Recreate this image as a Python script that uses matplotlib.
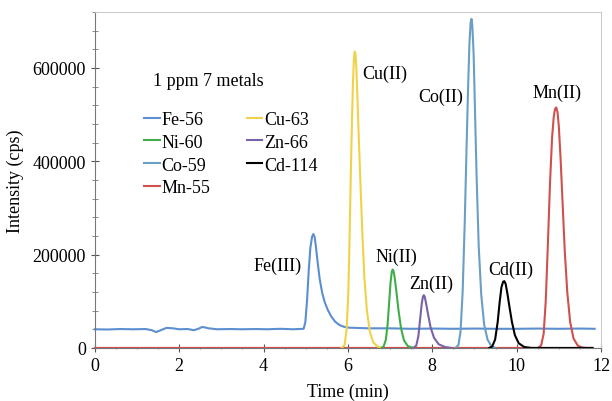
import matplotlib
matplotlib.use('Agg')
import matplotlib.pyplot as plt
from matplotlib.ticker import MultipleLocator

plt.rcParams['font.family'] = ['Liberation Serif', 'DejaVu Serif']
plt.rcParams['font.size'] = 13

# chromatogram traces: time (min), intensity (cps)
fe_t = [0, 0.3, 0.6, 0.9, 1.2, 1.35, 1.45, 1.55, 1.7, 1.85, 2.0, 2.2, 2.35, 2.45, 2.55, 2.7, 2.9,
        3.2, 3.5, 3.8, 4.1, 4.4, 4.7, 4.95, 4.99, 5.03, 5.07, 5.11, 5.15, 5.18, 5.21, 5.24, 5.28,
        5.33, 5.39, 5.45, 5.52, 5.6, 5.7, 5.8, 5.9, 6.0, 6.5, 7.0, 7.5, 8.0, 8.5, 9.0, 9.5, 10.0,
        10.5, 11.0, 11.5, 11.85]
fe_i = [40000, 39500, 40500, 40000, 40500, 38000, 34000, 37500, 43000, 42000, 40000, 40500, 38000,
        41000, 45000, 42000, 40000, 40500, 40000, 40500, 40000, 41000, 40000, 41000, 55000, 100000,
        165000, 215000, 238000, 244000, 238000, 218000, 185000, 148000, 118000, 98000, 82000,
        68000, 56000, 49000, 45500, 43500, 42000, 42000, 41000, 41500, 41000, 41500, 41000, 41000,
        41500, 41000, 41500, 41000]

cu_t = [5.85, 5.92, 5.97, 6.01, 6.04, 6.07, 6.10, 6.12, 6.14, 6.16, 6.18, 6.20, 6.22, 6.25, 6.29,
        6.34, 6.39, 6.45, 6.52, 6.60, 6.70, 6.80]
cu_i = [0, 6000, 40000, 120000, 240000, 380000, 500000, 570000, 615000, 635000, 630000, 600000,
        550000, 470000, 370000, 250000, 150000, 80000, 35000, 12000, 3000, 0]

ni_t = [6.80, 6.85, 6.90, 6.94, 6.98, 7.01, 7.04, 7.06, 7.08, 7.11, 7.15, 7.20, 7.26, 7.33, 7.42, 7.55]
ni_i = [0, 4000, 18000, 50000, 100000, 140000, 163000, 168000, 165000, 150000, 120000, 80000,
        42000, 16000, 4000, 0]

zn_t = [7.55, 7.62, 7.67, 7.71, 7.75, 7.78, 7.80, 7.82, 7.85, 7.90, 7.96, 8.04, 8.15, 8.30, 8.45]
zn_i = [0, 5000, 25000, 60000, 95000, 110000, 113000, 110000, 97000, 72000, 44000, 22000, 8000, 2000, 0]

co_t = [8.55, 8.62, 8.67, 8.72, 8.77, 8.81, 8.85, 8.88, 8.91, 8.93, 8.95, 8.98, 9.01, 9.05, 9.10,
        9.16, 9.23, 9.31, 9.40, 9.50]
co_i = [0, 6000, 35000, 120000, 270000, 420000, 560000, 650000, 698000, 705000, 690000, 630000,
        520000, 370000, 220000, 115000, 50000, 18000, 4000, 0]

cd_t = [9.35, 9.42, 9.49, 9.55, 9.60, 9.64, 9.68, 9.71, 9.74, 9.78, 9.83, 9.89, 9.96, 10.05, 10.18,
        10.35, 11.8]
cd_i = [0, 3000, 18000, 55000, 100000, 130000, 142000, 143000, 137000, 117000, 88000, 55000,
        27000, 10000, 2000, 0, 0]

mn_t = [0, 10.50, 10.58, 10.64, 10.69, 10.74, 10.79, 10.84, 10.88, 10.91, 10.94, 10.97, 11.00,
        11.04, 11.09, 11.14, 11.20, 11.27, 11.35, 11.45, 11.55, 11.65, 11.80]
mn_i = [0, 0, 5000, 30000, 100000, 220000, 350000, 450000, 495000, 512000, 515000, 505000,
        475000, 410000, 310000, 210000, 120000, 55000, 20000, 5000, 1000, 0, 0]

fig = plt.figure(figsize=(6.12, 4.02), dpi=100)
ax = fig.add_axes([0.155, 0.132, 0.827, 0.836])

lw = 1.5
kw = dict(lw=lw, clip_on=False, solid_joinstyle='round')
l_fe, = ax.plot(fe_t, fe_i, color='#5b8fd0', label='Fe-56', **kw)
l_mn, = ax.plot(mn_t, mn_i, color='#d0504d', label='Mn-55', **kw)
l_cu, = ax.plot(cu_t, cu_i, color='#f0d24a', label='Cu-63', **kw)
l_ni, = ax.plot(ni_t, ni_i, color='#3fae4a', label='Ni-60', **kw)
l_zn, = ax.plot(zn_t, zn_i, color='#7862a8', label='Zn-66', **kw)
l_co, = ax.plot(co_t, co_i, color='#6a9ec4', label='Co-59', **kw)
l_cd, = ax.plot(cd_t, cd_i, color='black', label='Cd-114', **kw)

# peak labels
ax.text(4.91, 177000, 'Fe(III)', ha='right', va='center')
ax.text(6.33, 589000, 'Cu(II)', ha='left', va='center')
ax.text(7.16, 196000, 'Ni(II)', ha='center', va='center')
ax.text(7.97, 139000, 'Zn(II)', ha='center', va='center')
ax.text(8.72, 538000, 'Co(II)', ha='right', va='center')
ax.text(9.86, 169000, 'Cd(II)', ha='center', va='center')
ax.text(10.96, 548000, 'Mn(II)', ha='center', va='center')

ax.text(1.38, 572000, '1 ppm 7 metals', ha='left', va='center')
ax.legend(handles=[l_fe, l_ni, l_co, l_mn, l_cu, l_zn, l_cd], ncol=2, frameon=False,
          loc='upper left', bbox_to_anchor=(0.098, 0.705), borderpad=0, borderaxespad=0,
          handlelength=0.85, handletextpad=0.1, columnspacing=2.0, labelspacing=0.32,
          prop={'family': 'Liberation Serif', 'size': 13})

ax.set_xlim(0, 12)
ax.set_ylim(0, 720000)
ax.xaxis.set_major_locator(MultipleLocator(2))
ax.xaxis.set_minor_locator(MultipleLocator(0.5))
ax.yaxis.set_major_locator(MultipleLocator(200000))
ax.yaxis.set_minor_locator(MultipleLocator(40000))
ax.tick_params(which='major', direction='inout', length=6, width=0.8, color='#555555')
ax.tick_params(which='minor', direction='inout', length=4, width=0.6, color='#777777')
ax.tick_params(axis='x', which='minor', length=2)

for s in ['top', 'right']:
    ax.spines[s].set_color('#cccccc')
for s in ['left', 'bottom']:
    ax.spines[s].set_color('#777777')

ax.set_xlabel('Time (min)', labelpad=6)
ax.set_ylabel('Intensity (cps)', labelpad=6)

plt.savefig('out.png', dpi=100)
